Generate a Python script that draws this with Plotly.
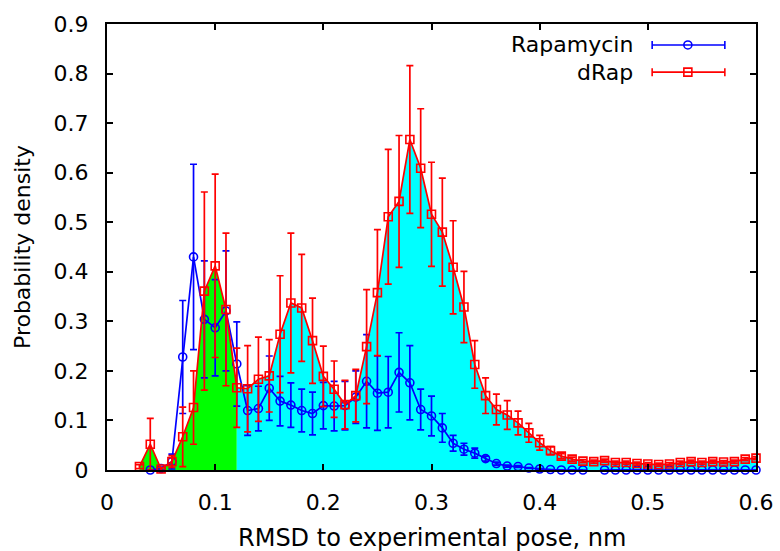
import plotly.graph_objects as go

rmsd = [0.03, 0.04, 0.05, 0.06, 0.07, 0.08, 0.09, 0.10, 0.11, 0.12,
        0.13, 0.14, 0.15, 0.16, 0.17, 0.18, 0.19, 0.20, 0.21, 0.22,
        0.23, 0.24, 0.25, 0.26, 0.27, 0.28, 0.29, 0.30, 0.31, 0.32,
        0.33, 0.34, 0.35, 0.36, 0.37, 0.38, 0.39, 0.40, 0.41, 0.42,
        0.43, 0.44, 0.45, 0.46, 0.47, 0.48, 0.49, 0.50, 0.51, 0.52,
        0.53, 0.54, 0.55, 0.56, 0.57, 0.58, 0.59, 0.60]

drap = [0.007, 0.052, 0.002, 0.017, 0.067, 0.126, 0.361, 0.412, 0.324, 0.166,
        0.164, 0.183, 0.190, 0.274, 0.337, 0.327, 0.261, 0.189, 0.163, 0.132,
        0.150, 0.249, 0.358, 0.511, 0.542, 0.667, 0.609, 0.516, 0.480, 0.409,
        0.329, 0.213, 0.150, 0.122, 0.111, 0.095, 0.075, 0.055, 0.039, 0.028,
        0.022, 0.018, 0.017, 0.019, 0.015, 0.015, 0.013, 0.012, 0.011, 0.012,
        0.015, 0.017, 0.015, 0.017, 0.016, 0.017, 0.022, 0.024]
drap_err = [0.004, 0.052, 0.003, 0.012, 0.060, 0.074, 0.200, 0.185, 0.154, 0.080,
            0.087, 0.085, 0.073, 0.118, 0.141, 0.108, 0.086, 0.061, 0.057, 0.049,
            0.053, 0.115, 0.127, 0.136, 0.133, 0.149, 0.120, 0.105, 0.109, 0.094,
            0.072, 0.048, 0.036, 0.031, 0.029, 0.024, 0.019, 0.015, 0.008, 0.005,
            0.004, 0.003, 0.003, 0.003, 0.003, 0.003, 0.003, 0.003, 0.003, 0.003,
            0.003, 0.003, 0.003, 0.003, 0.003, 0.003, 0.003, 0.003]

rapa = [None, 0.0, 0.003, 0.017, 0.228, 0.430, 0.304, 0.287, 0.321, 0.214,
        0.120, 0.124, 0.165, 0.139, 0.131, 0.120, 0.114, 0.130, 0.129, 0.130,
        0.147, 0.179, 0.155, 0.157, 0.197, 0.176, 0.122, 0.109, 0.085, 0.054,
        0.042, 0.034, 0.023, 0.013, 0.008, 0.007, 0.004, 0.002, 0.001, 0.0,
        0.0, 0.0, None, 0.0, 0.0, 0.0, 0.0, 0.0, 0.0, 0.0,
        0.0, 0.0, 0.0, 0.0, 0.0, 0.0, 0.0, 0.0]
rapa_err = [0.0, 0.0, 0.003, 0.015, 0.114, 0.187, 0.118, 0.097, 0.121, 0.085,
            0.050, 0.045, 0.065, 0.050, 0.045, 0.043, 0.043, 0.047, 0.050, 0.049,
            0.053, 0.094, 0.075, 0.072, 0.080, 0.075, 0.041, 0.040, 0.029, 0.016,
            0.012, 0.010, 0.005, 0.003, 0.002, 0.002, 0.001, 0.001, 0.0, 0.0,
            0.0, 0.0, 0.0, 0.0, 0.0, 0.0, 0.0, 0.0, 0.0, 0.0,
            0.0, 0.0, 0.0, 0.0, 0.0, 0.0, 0.0, 0.0]

split_x = 0.12
series_names = ["Rapamycin", "dRap"]
x_title = "RMSD to experimental pose, nm"
y_title = "Probability density"
FONT = "DejaVu Sans"
FS = 22

i_split = rmsd.index(split_x)

fig = go.Figure()
# filled area under dRap: green below split, cyan above
fig.add_trace(go.Scatter(x=rmsd[:i_split + 1], y=drap[:i_split + 1], mode="lines",
                         line=dict(width=0, color="#00ff00"), fill="tozeroy",
                         fillcolor="#00ff00", showlegend=False, hoverinfo="skip"))
fig.add_trace(go.Scatter(x=rmsd[i_split:], y=drap[i_split:], mode="lines",
                         line=dict(width=0, color="#00ffff"), fill="tozeroy",
                         fillcolor="#00ffff", showlegend=False, hoverinfo="skip"))

fig.add_trace(go.Scatter(x=rmsd, y=rapa, mode="lines+markers", name=series_names[0],
                         line=dict(color="#0000ff", width=1.7),
                         marker=dict(symbol="circle-open", size=8, color="#0000ff",
                                     line=dict(width=1.6, color="#0000ff")),
                         error_y=dict(type="data", array=rapa_err, visible=True,
                                      color="#0000ff", thickness=1.7, width=3.5),
                         cliponaxis=False, showlegend=False))
fig.add_trace(go.Scatter(x=rmsd, y=drap, mode="lines+markers", name=series_names[1],
                         line=dict(color="#ff0000", width=1.7),
                         marker=dict(symbol="square-open", size=8, color="#ff0000",
                                     line=dict(width=1.6, color="#ff0000")),
                         error_y=dict(type="data", array=drap_err, visible=True,
                                      color="#ff0000", thickness=1.7, width=3.5),
                         cliponaxis=False, showlegend=False))

# custom gnuplot-style legend (text left, sample right)
legend_rows = [(series_names[0], "#0000ff", "circle", 0.953),
               (series_names[1], "#ff0000", "rect", 0.892)]
xl0, xl1, xm, xt = 0.840, 0.952, 0.895, 0.8136
shapes = []
annotations = []
for name, col, sym, yr in legend_rows:
    annotations.append(dict(x=xt, y=yr, xref="paper", yref="paper", text=name,
                            showarrow=False, xanchor="right", yanchor="middle",
                            font=dict(family=FONT, size=FS, color="black")))
    shapes.append(dict(type="line", xref="paper", yref="paper", x0=xl0, x1=xl1,
                       y0=yr, y1=yr, line=dict(color=col, width=1.6)))
    for xc in (xl0, xl1):
        shapes.append(dict(type="line", xref="paper", yref="paper",
                           xsizemode="scaled", ysizemode="pixel", yanchor=yr,
                           x0=xc, x1=xc, y0=-4, y1=4, line=dict(color=col, width=1.6)))
    shapes.append(dict(type=sym, xref="paper", yref="paper",
                       xsizemode="pixel", ysizemode="pixel", xanchor=xm, yanchor=yr,
                       x0=-4, x1=4, y0=-4, y1=4, line=dict(color=col, width=1.6)))

# axis titles as annotations (fixed pixel placement)
annotations.append(dict(x=0.5, y=0, xref="paper", yref="paper", text=x_title,
                        showarrow=False, xanchor="center", yanchor="middle", yshift=-68,
                        font=dict(family=FONT, size=24, color="black")))
annotations.append(dict(x=0, y=0.5, xref="paper", yref="paper", text=y_title,
                        showarrow=False, xanchor="center", yanchor="middle", xshift=-85,
                        textangle=-90, font=dict(family=FONT, size=FS, color="black")))

fig.update_layout(
    width=780, height=551,
    margin=dict(l=107, r=24, t=24, b=81, autoexpand=False),
    paper_bgcolor="white", plot_bgcolor="white",
    font=dict(family=FONT, size=FS, color="black"),
    shapes=shapes, annotations=annotations,
    showlegend=False,
)
fig.update_xaxes(range=[0, 0.6], tick0=0, dtick=0.1, ticks="inside", ticklen=6,
                 tickwidth=2, tickcolor="black", showline=True, linewidth=2,
                 linecolor="black", mirror="allticks", showgrid=False, zeroline=False,
                 ticklabelstandoff=12, automargin=False)
fig.update_yaxes(range=[0, 0.9], tick0=0, dtick=0.1, ticks="inside", ticklen=6,
                 tickwidth=2, tickcolor="black", showline=True, linewidth=2,
                 linecolor="black", mirror="allticks", showgrid=False, zeroline=False,
                 ticklabelstandoff=12, automargin=False)

fig.write_html("out.html")
